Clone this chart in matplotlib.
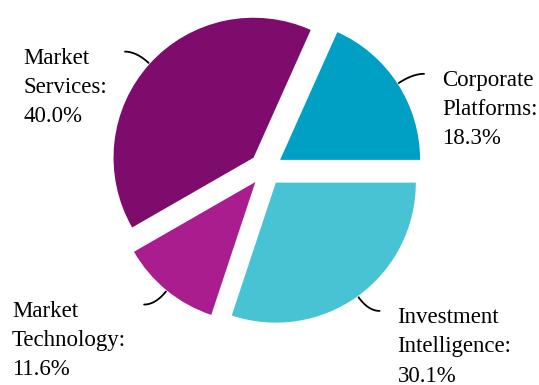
import numpy as np
import matplotlib.pyplot as plt

labels = ['Corporate\nPlatforms:', 'Market\nServices:', 'Market\nTechnology:', 'Investment\nIntelligence:']
shares = [18.3, 40.0, 11.6, 30.1]
colors = ['#00a0c4', '#7e0c6c', '#a91d8e', '#48c3d3']

plt.rcParams['font.family'] = ['Liberation Serif', 'DejaVu Serif']

fig = plt.figure(figsize=(5.39, 3.85), dpi=100)
ax = fig.add_axes([0, 0, 1, 1])
wedges, _ = ax.pie(shares, colors=colors, explode=[0.12] * 4, startangle=0,
                   counterclock=True, radius=1)

t = np.linspace(0, 1, 40)[:, None]
for w, lab, val in zip(wedges, labels, shares):
    mid = np.deg2rad((w.theta1 + w.theta2) / 2)
    d = np.array([np.cos(mid), np.sin(mid)])
    side = 1 if d[0] > 0 else -1
    inner = 1.13 * d
    ctrl = inner + 0.12 * d
    outer = ctrl + np.array([side * 0.08, 0])
    # leader leaves the wedge radially, then flattens towards the label
    curve = (1 - t) ** 2 * inner + 2 * (1 - t) * t * ctrl + t ** 2 * outer
    ax.plot(curve[:, 0], curve[:, 1], color='black', lw=1.3, solid_capstyle='round')
    ax.annotate('%s\n%.1f%%' % (lab, val), xy=outer,
                xytext=(side * 18, 4), textcoords='offset pixels',
                ha='left' if side > 0 else 'right', va='top', multialignment='left',
                fontsize=16.5, linespacing=1.52)

ax.set_xlim(-266 / 140, (539 - 266) / 140)
ax.set_ylim(-(385 - 169) / 140, 169 / 140)
ax.set_aspect('equal')
ax.axis('off')

fig.savefig('out.png', dpi=100)
